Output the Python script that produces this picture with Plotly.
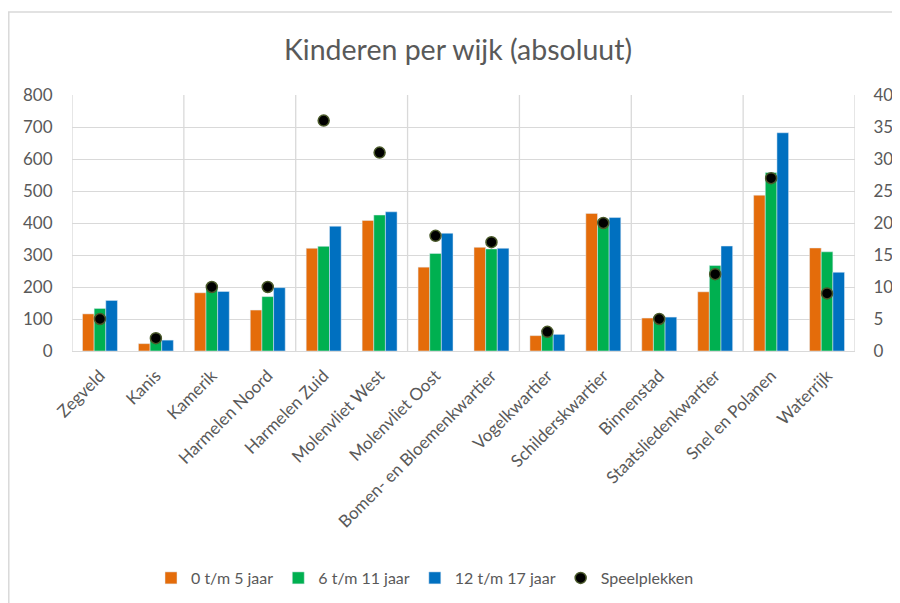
import plotly.graph_objects as go

wijken = ["Zegveld", "Kanis", "Kamerik", "Harmelen Noord", "Harmelen Zuid",
          "Molenvliet West", "Molenvliet Oost", "Bomen- en Bloemenkwartier",
          "Vogelkwartier", "Schilderskwartier", "Binnenstad",
          "Staatsliedenkwartier", "Snel en Polanen", "Waterrijk"]
jaar_0_5 = [116, 23, 182, 128, 321, 408, 262, 324, 48, 430, 103, 185, 487, 322]
jaar_6_11 = [133, 38, 196, 170, 327, 425, 305, 319, 55, 412, 105, 267, 558, 310]
jaar_12_17 = [158, 34, 186, 198, 390, 435, 368, 321, 52, 417, 106, 328, 682, 246]
speelplekken = [5, 2, 10, 10, 36, 31, 18, 17, 3, 20, 5, 12, 27, 9]

FONT = "Lato"
GRAY = "#595959"
GRID = "#d9d9d9"
CLEAR = "rgba(0,0,0,0)"

fig = go.Figure()
fig.add_trace(go.Bar(x=wijken, y=jaar_0_5, name="0 t/m 5 jaar", marker_color="#E46C0A"))
fig.add_trace(go.Bar(x=wijken, y=jaar_6_11, name="6 t/m 11 jaar", marker_color="#00B050"))
fig.add_trace(go.Bar(x=wijken, y=jaar_12_17, name="12 t/m 17 jaar", marker_color="#0070C0"))
fig.add_trace(go.Scatter(x=wijken, y=speelplekken, name="Speelplekken", mode="markers",
                         yaxis="y2",
                         marker=dict(color="black", size=11,
                                     line=dict(color="#4b5a2b", width=1.5))))

# page body has an 8px margin; compensate so the picture lines up
OFF = 8
W, H = 900, 603
L = 72 - OFF
T = 95 - OFF
R = W - (855 - OFF)
B = H - (351 - OFF)
pw = W - L - R
ph = H - T - B

shapes = []
for k in range(0, len(wijken) + 1, 2):
    shapes.append(dict(type="line", xref="x", yref="paper", x0=k - 0.5, x1=k - 0.5,
                       y0=0, y1=1, line=dict(color=GRID, width=1.3), layer="below"))
x_left = (8 - OFF - L) / pw
y_top = (H - B - (12 - OFF)) / ph
shapes.append(dict(type="line", xref="paper", yref="paper", x0=x_left + 0.001, x1=x_left + 0.001,
                   y0=y_top, y1=-2, line=dict(color=GRID, width=1.5)))
shapes.append(dict(type="line", xref="paper", yref="paper", x0=x_left, x1=2,
                   y0=y_top, y1=y_top, line=dict(color=GRID, width=1.5)))

fig.update_layout(
    width=W, height=H,
    margin=dict(l=L, r=R, t=T, b=B, autoexpand=False),
    paper_bgcolor="white", plot_bgcolor="white",
    font=dict(family=FONT, color=GRAY, size=17),
    title=dict(text="Kinderen per wijk (absoluut)", x=(458 - OFF) / W, xanchor="center",
               y=1 - (50 - OFF) / H, yanchor="middle",
               font=dict(family=FONT, size=28.5, color=GRAY)),
    barmode="group", bargap=0.375, bargroupgap=0,
    xaxis=dict(type="category", range=[-0.5, len(wijken) - 0.5], tickangle=-45,
               showgrid=False, ticks="outside", ticklen=7, tickcolor=CLEAR,
               showline=True, linecolor=GRID, linewidth=1.3,
               tickfont=dict(size=17, color=GRAY)),
    yaxis=dict(range=[0, 800], dtick=100, showgrid=True, gridcolor=GRID, gridwidth=1.3,
               zeroline=False, ticks="outside", ticklen=15, tickcolor=CLEAR,
               tickfont=dict(size=17, color=GRAY)),
    yaxis2=dict(range=[0, 40], dtick=5, overlaying="y", side="right", showgrid=False,
                zeroline=False, ticks="outside", ticklen=14, tickcolor=CLEAR,
                tickfont=dict(size=17, color=GRAY)),
    legend=dict(orientation="h", x=(425 - OFF - L) / pw, xanchor="center",
                y=-(578 - 351) / ph, yanchor="middle",
                font=dict(size=16, color=GRAY), itemwidth=30, traceorder="normal"),
    shapes=shapes,
)

fig.write_html("out.html")
